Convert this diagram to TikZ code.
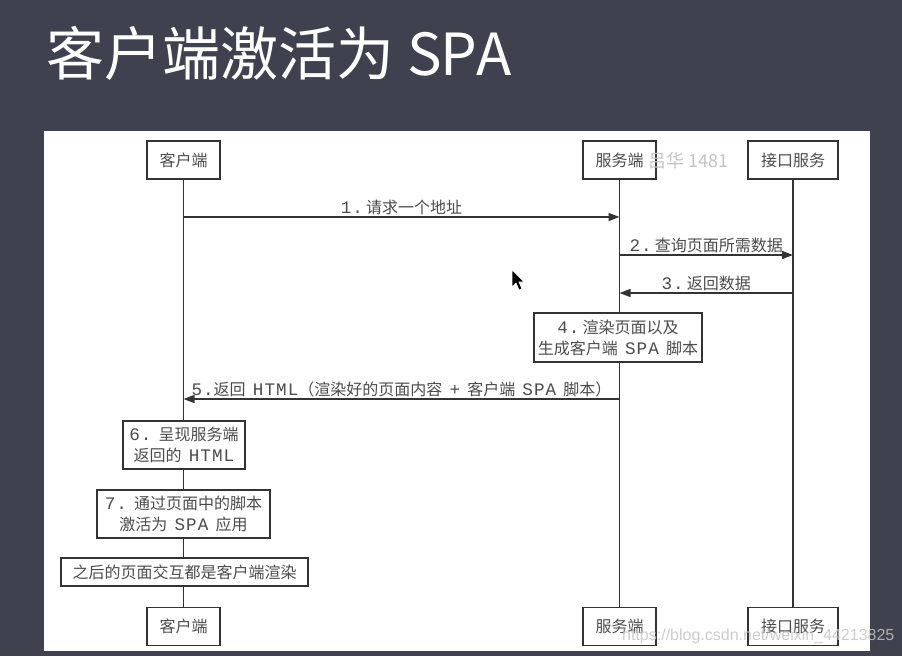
\documentclass[tikz,border=0pt]{standalone}
\usepackage{fontspec}
\setmainfont{Noto Sans CJK SC}
\newfontfamily\monof{Liberation Mono}[Scale=1.1, LetterSpace=6]
\newfontfamily\wmfont{Liberation Sans}
\usetikzlibrary{arrows.meta}
\definecolor{bgdark}{HTML}{3F424E}
\definecolor{ink}{HTML}{333333}
\definecolor{txt}{HTML}{4C4C4C}
\definecolor{wm}{HTML}{C4C4C4}
\newcommand{\lat}[1]{{\monof #1}}
\newcommand{\gap}{\hspace{0.45em}}
\newcommand{\sgap}{\hspace{0.2em}}
\pgfdeclarelayer{bg}
\pgfdeclarelayer{back}
\pgfsetlayers{bg,back,main}
\tikzset{
 actor/.style={draw=ink, fill=white, line width=1.7pt, minimum height=38pt, inner sep=0pt, text=txt, font=\fontsize{16}{20}\selectfont},
 stepbox/.style={draw=ink, fill=white, line width=1.7pt, inner sep=0pt, text=txt, align=center, font=\fontsize{16}{21}\selectfont},
 life/.style={draw=ink, line width=1.7pt},
 msg/.style={draw=ink, line width=1.5pt, -{Triangle[length=11pt,width=8pt]}},
 msglabel/.style={text=txt, font=\fontsize{16}{20}\selectfont, inner sep=1.5pt, above},
}
\begin{document}
\begin{tikzpicture}[x=1pt,y=-1pt]
\begin{pgfonlayer}{bg}
\fill[bgdark] (0,0) rectangle (902,656);
\fill[white] (44,131) rectangle (870,651);
\end{pgfonlayer}
\useasboundingbox (0,0) rectangle (902,656);
\node[anchor=west, text=white, font=\fontsize{58}{60}\selectfont, inner sep=0pt] (title) at (46,53) {客户端激活为 S\kern-1ptP\kern-1ptA};

\node[actor, minimum width=73pt] (c1) at (183.5,160) {客户端};
\node[actor, minimum width=73pt] (s1) at (619.5,160) {服务端};
\node[actor, minimum width=90pt] (a1) at (793,160) {接口服务};
\node[actor, minimum width=73pt] (c2) at (183.5,626.5) {客户端};
\node[actor, minimum width=73pt] (s2) at (619.5,626.5) {服务端};
\node[actor, minimum width=90pt] (a2) at (793,626.5) {接口服务};

\node[stepbox, minimum width=168pt, minimum height=49pt] (b4) at (618,337.5) {\lat{4.}\sgap 渲染页面以及\\生成客户端\gap\lat{SPA}\gap 脚本};
\node[stepbox, minimum width=122pt, minimum height=48pt] (b6) at (184,445) {\lat{6.}\gap 呈现服务端\\返回的\gap\lat{HTML}};
\node[stepbox, minimum width=173pt, minimum height=48pt] (b7) at (183.5,514) {\lat{7.}\gap 通过页面中的脚本\\激活为\gap\lat{SPA}\gap 应用};
\node[stepbox, minimum width=247pt, minimum height=28pt] (b8) at (184.5,572) {之后的页面交互都是客户端渲染};

\begin{pgfonlayer}{back}
\draw[life] (c1.south) -- (c2.north);
\draw[life] (s1.south) -- (s2.north);
\draw[life] (a1.south) -- (a2.north);
\end{pgfonlayer}

\coordinate (y1) at (0,217);
\coordinate (y2) at (0,255);
\coordinate (y3) at (0,293);
\coordinate (y5) at (0,399);
\draw[msg] (c1 |- y1) -- node[msglabel]{\lat{1.}\sgap 请求一个地址} (s1 |- y1);
\draw[msg] (s1 |- y2) -- node[msglabel]{\lat{2.}\sgap 查询页面所需数据} (a1 |- y2);
\draw[msg] (a1 |- y3) -- node[msglabel]{\lat{3.}\sgap 返回数据} (s1 |- y3);
\draw[msg] (s1 |- y5) -- node[msglabel]{\lat{5.}返回\gap\lat{HTML}（渲染好的页面内容\gap\lat{+}\gap 客户端\gap\lat{SPA}\gap 脚本）} (c1 |- y5);

\node[text=wm, font=\fontsize{18}{20}\selectfont, anchor=west, inner sep=0pt] (wm1) at (648,161) {吕华 1481};
\node[text=wm, opacity=0.85, font=\wmfont\fontsize{16}{18}\selectfont, anchor=west, inner sep=0pt] (wm2) at (622,636) {https://blog.csdn.net/weixin\_44213825};

\filldraw[fill=black, draw=white, line width=0.6pt] (512,270) -- (512,287) -- (516,283) -- (519,290) -- (522,289) -- (519,282) -- (524,282) -- cycle;
\end{tikzpicture}
\end{document}
